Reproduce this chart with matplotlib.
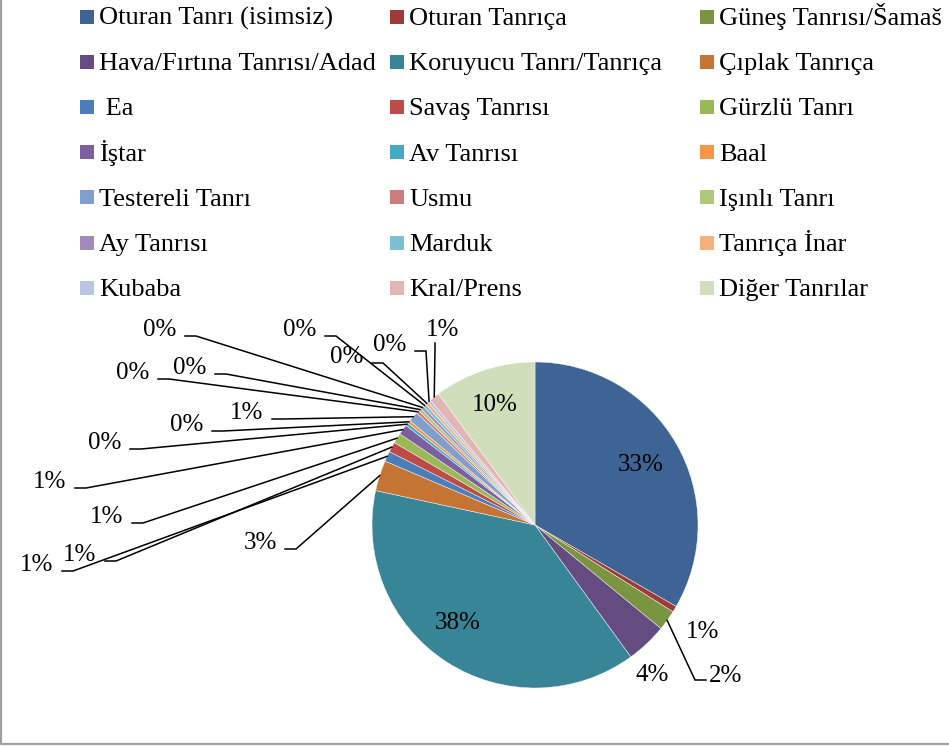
import math
import matplotlib.pyplot as plt
from matplotlib.patches import Rectangle

plt.rcParams['font.family'] = ['Liberation Serif', 'DejaVu Serif']

W, H = 949, 746

categories = ['Oturan Tanrı (isimsiz)', 'Oturan Tanrıça', 'Güneş Tanrısı/Šamaš',
              'Hava/Fırtına Tanrısı/Adad', 'Koruyucu Tanrı/Tanrıça', 'Çıplak Tanrıça',
              ' Ea', 'Savaş Tanrısı', 'Gürzlü Tanrı',
              'İştar', 'Av Tanrısı', 'Baal',
              'Testereli Tanrı', 'Usmu', 'Işınlı Tanrı',
              'Ay Tanrısı', 'Marduk', 'Tanrıça İnar',
              'Kubaba', 'Kral/Prens', 'Diğer Tanrılar']
values = [33, 0.6, 2, 4, 38, 3, 1, 1, 1, 1, 0.3, 0.3, 1, 0.3, 0.3,
          0.3, 0.3, 0.3, 0.3, 1, 10]
colors = ['#3d6494', '#9e3a37', '#7a9441', '#644c80', '#378597', '#c57433',
          '#4a7ebb', '#be4b48', '#98b954', '#7d5fa0', '#46aac5', '#f59646',
          '#7f9fcf', '#cd7e7c', '#afc97a', '#a18bba', '#7cc0d6', '#f8af7c',
          '#b7c6e2', '#e1b6b5', '#d0debb']

# label placement (pixels, from top-left); kind: in = inside, free = no leader,
# left/right/down = leader line direction
label_pos = [(641, 465, 'in'), (703, 632, 'free'), (726, 676, 'right'),
             (652, 675, 'free'), (458, 623, 'in'), (260, 543, 'left'),
             (37, 565, 'left'), (80, 555, 'left'), (107, 517, 'left'),
             (50, 482, 'left'), (105, 443, 'left'), (187, 425, 'left'),
             (247, 413, 'left'), (133, 373, 'left'), (190, 368, 'left'),
             (160, 330, 'left'), (300, 330, 'left'), (347, 357, 'left'),
             (390, 345, 'left'), (443, 330, 'down'), (495, 405, 'in')]

cx, cy, radius = 535, 525, 163

fig = plt.figure(figsize=(W / 100, H / 100), dpi=100)
ax = fig.add_axes([0, 0, 1, 1])

wedges, _ = ax.pie(values, colors=colors, startangle=90, counterclock=False,
                   center=(cx, H - cy), radius=radius,
                   wedgeprops=dict(edgecolor='white', linewidth=0.3))
ax.set_xlim(0, W)
ax.set_ylim(0, H)
ax.axis('off')

total = sum(values)
for w, v, (lx, ly, kind) in zip(wedges, values, label_pos):
    txt = '{:.0f}%'.format(100 * v / total)
    ax.text(lx, H - ly, txt, ha='center', va='center', fontsize=18)
    if kind in ('in', 'free'):
        continue
    a = math.radians((w.theta1 + w.theta2) / 2)
    px = cx + radius * math.cos(a)
    py = (H - cy) + radius * math.sin(a)
    if kind == 'left':
        x0, y0 = lx + 25, H - (ly + 6)
        x1, y1 = x0 + 11, y0
    elif kind == 'right':
        x0, y0 = lx - 20, H - (ly + 4)
        x1, y1 = x0 - 11, y0
    else:
        x0, y0 = lx - 8, H - (ly + 13)
        x1, y1 = x0, y0 - 6
    ax.plot([x0, x1, px], [y0, y1, py], color='black', lw=1.1,
            solid_joinstyle='miter')

# legend: 3 columns, filled row by row
col_x = [80, 390, 700]
row0, pitch = 25, 45.2
for i, (name, c) in enumerate(zip(categories, colors)):
    x = col_x[i % 3]
    base = row0 + pitch * (i // 3)
    ax.add_patch(Rectangle((x, H - base + 1.5), 14, 14, facecolor=c,
                           edgecolor='none'))
    ax.text(x + 19, H - base, name, ha='left', va='baseline', fontsize=19)

# chart area border (only left and bottom edges visible)
ax.plot([1, 1, W + 5], [H + 5, 2, 2], color='#a0a0a0', lw=1.6)

fig.savefig('out.png', dpi=100)
